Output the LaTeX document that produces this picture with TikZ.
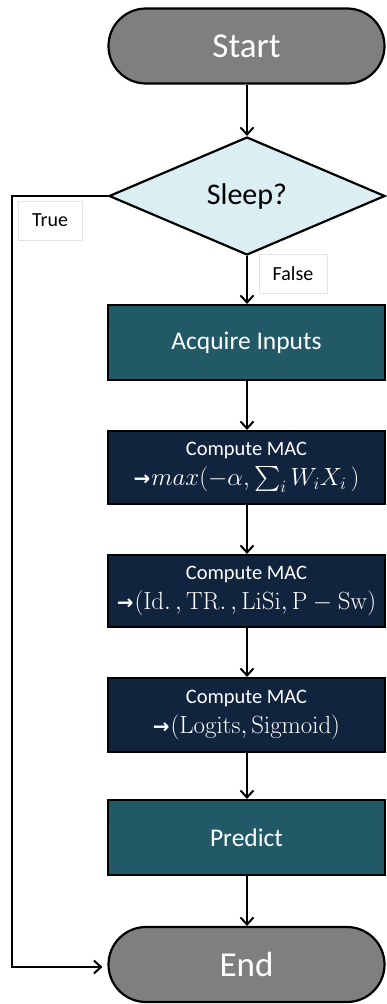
\documentclass[tikz,border=0pt]{standalone}
\usepackage{amsmath}
\usepackage[no-math]{fontspec}
\setmainfont{Carlito}
\newfontfamily\arrowfont{DejaVu Sans}
\usetikzlibrary{shapes.geometric,shapes.misc,arrows.meta}
\definecolor{termgray}{HTML}{7F7F7F}
\definecolor{decblue}{HTML}{DAEEF3}
\definecolor{tealbox}{HTML}{215967}
\definecolor{navybox}{HTML}{10243E}
\definecolor{tagline}{HTML}{E4E4E4}
\newcommand{\rarr}{{\arrowfont\bfseries\fontsize{20}{20}\selectfont →}\hspace{1pt}}
\newcommand{\macmath}{\fontsize{24}{28}\selectfont}
\begin{document}
\begin{tikzpicture}[x=1pt,y=-1pt,
  terminal/.style={rounded rectangle, draw=black, line width=2.2pt, fill=termgray,
    minimum width=276pt, minimum height=75pt, text=white, inner sep=0pt,
    font=\fontsize{35}{40}\selectfont},
  decision/.style={diamond, draw=black, line width=2.2pt, fill=decblue,
    minimum width=276pt, minimum height=118pt, inner sep=0pt,
    font=\fontsize{30}{34}\selectfont},
  procbox/.style={rectangle, draw=black, line width=2.2pt, fill=tealbox,
    minimum width=277pt, text=white, align=center, inner sep=0pt},
  macbox/.style={procbox, fill=navybox, font=\fontsize{20.5}{28}\selectfont},
  tagbox/.style={rectangle, draw=tagline, line width=0.6pt, fill=white,
    inner sep=0pt, font=\fontsize{20}{24}\selectfont},
  flow/.style={draw=black, line width=2.2pt, -{Straight Barb[length=7pt,width=13pt,line width=2pt]}}
]
\useasboundingbox (0,0) rectangle (386,1004);

\node[terminal] (start) at (246.5,46) {Start};
\node[decision] (sleep) at (247,196) {Sleep?};
\node[procbox, minimum height=75pt, font=\fontsize{25.5}{30}\selectfont] (acq) at (246.5,342.5) {Acquire Inputs};
\node[macbox, minimum height=73pt] (mac1) at (246.5,467.5)
  {Compute MAC\\[2pt]\rarr\macmath$max(-\alpha,\sum\nolimits_i W_i X_i\,)$};
\node[macbox, minimum height=72pt] (mac2) at (246.5,591)
  {Compute MAC\\[2pt]\rarr\macmath$(\mathrm{Id.}\,,\mathrm{TR.}\,,\mathrm{LiSi},\mathrm{P}-\mathrm{Sw})$};
\node[macbox, minimum height=74pt] (mac3) at (246.5,715)
  {Compute MAC\\[2pt]\rarr\macmath$(\mathrm{Logits},\mathrm{Sigmoid})$};
\node[procbox, minimum height=75pt, font=\fontsize{25.5}{30}\selectfont] (pred) at (246.5,837.5) {Predict};
\node[terminal] (end) at (246.5,964.5) {End};

\node[tagbox, minimum width=64pt, minimum height=39pt] (truetag) at (50,220.5) {True};
\node[tagbox, minimum width=68pt, minimum height=39pt] (falsetag) at (293,273.5) {False};

\coordinate (loopTop) at (12,196);
\coordinate (loopBot) at (12,967);

\draw[flow] (start.south -| sleep.north) -- (sleep.north);
\draw[flow] (sleep.south) -- (sleep.south |- acq.north);
\draw[flow] (acq.south -| sleep.south) -- (mac1.north -| sleep.south);
\draw[flow] (mac1.south -| sleep.south) -- (mac2.north -| sleep.south);
\draw[flow] (mac2.south -| sleep.south) -- (mac3.north -| sleep.south);
\draw[flow] (mac3.south -| sleep.south) -- (pred.north -| sleep.south);
\draw[flow] (pred.south -| sleep.south) -- (end.north -| sleep.south);
\draw[flow, shorten >=5pt] (sleep.west) -- (loopTop) -- (loopBot) -- (loopBot -| end.west);
\end{tikzpicture}
\end{document}
